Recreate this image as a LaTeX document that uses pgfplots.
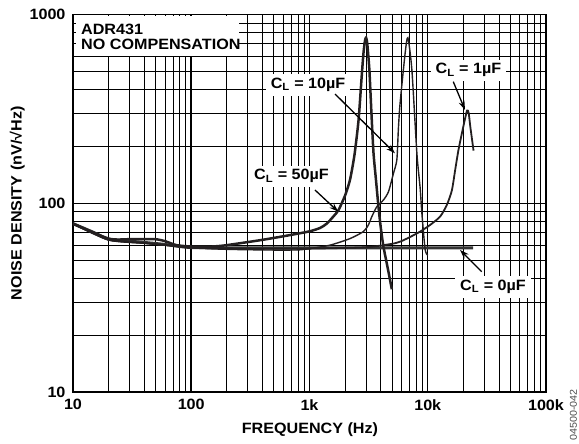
\documentclass[border=0pt]{standalone}
\usepackage{pgfplots}
\pgfplotsset{compat=1.18}
\usepackage{fontspec}
\setmainfont{Liberation Sans}[FakeStretch=1.08]
\usetikzlibrary{arrows.meta}
\definecolor{curve}{HTML}{231F20}
\begin{document}
\begin{tikzpicture}[font=\fontsize{15}{17}\selectfont\bfseries]
\begin{axis}[
  xmode=log, ymode=log,
  scale only axis, width=473bp, height=377.5bp,
  xmin=10, xmax=100000, ymin=10, ymax=1000,
  xtick={10,100,1000,10000,100000}, xticklabels={10,100,1k,10k,100k},
  ytick={10,100,1000}, yticklabels={10,100,1000},
  grid=both,
  major grid style={black, line width=1.5bp},
  minor grid style={black, line width=0.8bp},
  axis line style={black, line width=1.6bp},
  tick style={draw=none},
  xticklabel style={yshift=-4bp},
  yticklabel style={xshift=-4bp},
  xlabel={FREQUENCY (Hz)},
  ylabel={NOISE DENSITY (nV/√Hz)},
  xlabel style={at={(axis description cs:0.501,-0.1107)}, anchor=base},
  ylabel style={at={(axis description cs:-0.118,0.5)}, anchor=center},
]
% C_L = 0uF
\addplot[black!80, line width=3bp, smooth, tension=0.4] coordinates {
(10,78) (15,70) (20,64.5) (30,63) (40,62) (60,60.5) (80,59) (100,58.3) (200,58) (1000,58) (24200,58)};
% C_L = 1uF
\addplot[curve, line width=1.8bp, smooth, tension=0.4] coordinates {
(10,78) (20,64) (40,61.5) (80,59) (100,58.3) (300,57.5) (1000,57.5) (3000,58.5) (5000,61) (5838,62.6) (7000,66) (8630,70.8) (10480,76.8) (12730,85) (14510,98) (16000,117) (17060,150) (18200,192) (20000,255) (21500,310) (22200,300) (22900,255) (24400,190)};
% C_L = 10uF
\addplot[curve, line width=1.4bp, smooth, tension=0.4] coordinates {
(10,78) (20,64) (40,61.5) (80,59) (100,58) (200,57) (500,56.5) (800,56.6) (1000,57.5) (1493,60) (2203,65) (2857,70.8) (3150,76.8) (3365,84.9) (3710,95.9) (4218,104) (4652,115) (5130,144) (5480,170) (5650,250) (5838,339) (6440,623) (6790,754) (7345,508) (8094,184) (8630,120) (8920,88.5) (9500,57) (10000,53)};
% C_L = 50uF
\addplot[curve, line width=2.5bp, smooth, tension=0.4] coordinates {
(10,78) (20,65) (30,64.5) (40,64.5) (50,64.5) (60,63) (75,60) (100,59) (150,59) (200,60) (400,64) (700,68) (1000,71) (1230,74) (1400,78) (1590,85) (1760,92) (2000,110) (2200,133) (2400,180) (2600,276) (2750,450) (2860,623) (2950,730) (3010,754) (3080,700) (3210,508) (3350,290) (3480,184) (3650,133) (3830,96) (4000,75) (4220,59) (4600,45) (4970,35)};

% header box
\fill[white] (rel axis cs:0.006,0.997) rectangle (rel axis cs:0.352,0.890);
\node[anchor=base west, inner sep=0pt] at (rel axis cs:0.0169,0.948) {ADR431};
\node[anchor=base west, inner sep=0pt] at (rel axis cs:0.0169,0.9086) {NO COMPENSATION};

% labels
\node[fill=white, inner xsep=5bp, inner ysep=4bp, anchor=base] at (rel axis cs:0.497,0.804) {C\textsubscript{L} = 10µF};
\node[fill=white, inner xsep=5bp, inner ysep=4bp, anchor=base] at (rel axis cs:0.462,0.5616) {C\textsubscript{L} = 50µF};
\node[fill=white, inner xsep=5bp, inner ysep=4bp, anchor=base] at (rel axis cs:0.836,0.8424) {C\textsubscript{L} = 1µF};
\node[fill=white, inner xsep=5bp, inner ysep=4bp, anchor=base] at (rel axis cs:0.888,0.2683) {C\textsubscript{L} = 0µF};

% arrows
\draw[-{Stealth[length=9bp,width=6bp]}, line width=1.3bp] (rel axis cs:0.554,0.7894) -- (rel axis cs:0.6808,0.6323);
\draw[-{Stealth[length=9bp,width=6bp]}, line width=1.3bp] (rel axis cs:0.5116,0.5351) -- (rel axis cs:0.5609,0.4776);
\draw[-{Stealth[length=9bp,width=6bp]}, line width=1.3bp] (rel axis cs:0.804,0.822) -- (rel axis cs:0.8288,0.747);
\draw[-{Stealth[length=9bp,width=6bp]}, line width=1.3bp] (rel axis cs:0.864,0.3187) -- (rel axis cs:0.8182,0.3762);

\coordinate (ID) at (rel axis cs:1.058,-0.061);
\coordinate (BL) at (rel axis cs:-0.1543,-0.1351);
\coordinate (TR) at (rel axis cs:1.0698,1.0384);
\end{axis}
\node[rotate=90, font=\fontsize{10}{12}\selectfont\mdseries, text=black!70] at (ID) {04500-042};
\pgfresetboundingbox
\path[use as bounding box] (BL) rectangle (TR);
\end{tikzpicture}
\end{document}
